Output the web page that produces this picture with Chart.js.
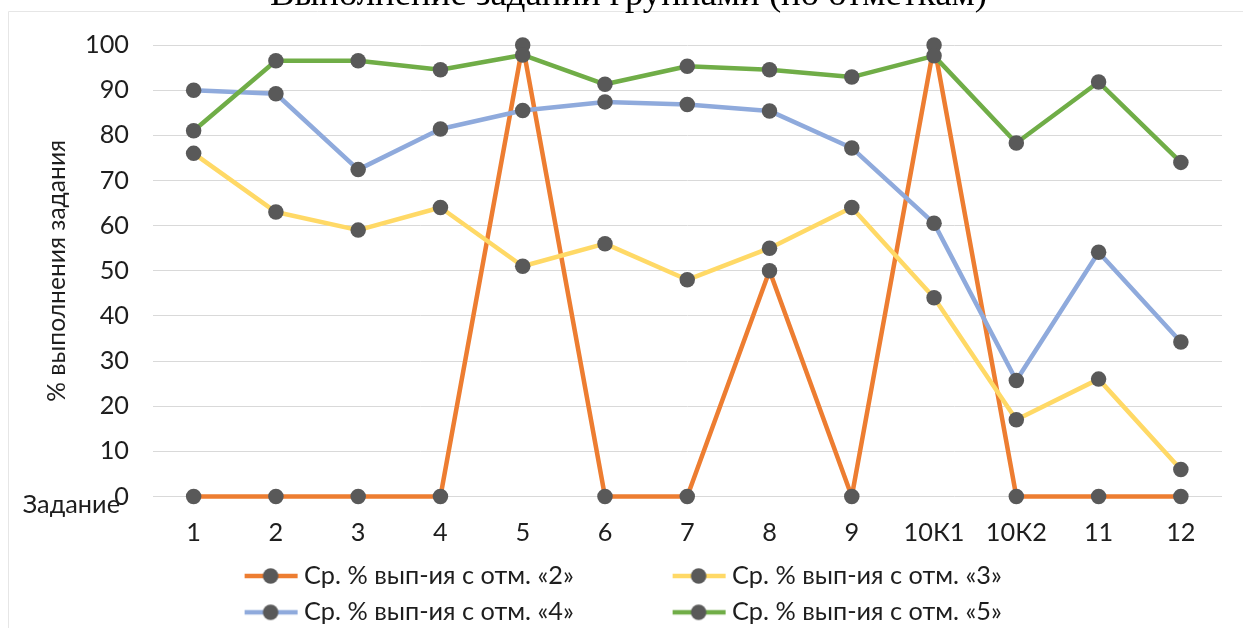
<!DOCTYPE html>
<html>
<head>
<meta charset="utf-8">
<script src="https://cdn.jsdelivr.net/npm/chart.js@4.4.1/dist/chart.umd.min.js"></script>
<style>
html,body{margin:0;padding:0;background:#ffffff;overflow:hidden;}
#wrap{position:relative;width:1243px;height:628px;}
canvas{display:block;}
</style>
</head>
<body>
<div id="wrap"><canvas id="c" width="1243" height="628"></canvas></div>
<script>
// ---------- data ----------
const chartTitle = 'Выполнение заданий группами (по отметкам)';
const yAxisTitle = '% выполнения задания';
const xAxisTitle = 'Задание';
const categories = ['1', '2', '3', '4', '5', '6', '7', '8', '9', '10К1', '10К2', '11', '12'];
const seriesNames = ['Ср. % вып-ия с отм. «2»', 'Ср. % вып-ия с отм. «3»', 'Ср. % вып-ия с отм. «4»', 'Ср. % вып-ия с отм. «5»'];
const grade2 = [0, 0, 0, 0, 100, 0, 0, 50, 0, 100, 0, 0, 0];
const grade3 = [76, 63, 59, 64, 51, 56, 48, 55, 64, 44, 17, 26, 6];
const grade4 = [90, 89.2, 72.4, 81.4, 85.5, 87.4, 86.8, 85.4, 77.2, 60.5, 25.7, 54.1, 34.2];
const grade5 = [81, 96.5, 96.5, 94.5, 97.8, 91.3, 95.3, 94.5, 92.9, 97.6, 78.3, 91.8, 74];
const yMin = 0, yMax = 100, yStep = 10;

// ---------- styling ----------
const W = 1243, H = 628;
const seriesColors = ['#ED7D31', '#FFD966', '#8FAADC', '#70AD47'];
const markerColor = '#595959';
const textColor = '#1e1e1e';
const gridColor = '#D9D9D9';
const sans = 'Lato';
const plotLeft = 152.5, plotRight = 1222, plotTop = 45, plotBottom = 496.5;

const mctx = document.createElement('canvas').getContext('2d');
function fitSize(text, family, nominal, target) {
  mctx.font = nominal + 'px ' + family;
  return nominal * target / mctx.measureText(text).width;
}
const legendSize = fitSize(seriesNames[0], sans, 19, 270);
const tickSize = legendSize;
const yTitleSize = fitSize(yAxisTitle, sans, 20, 262);
const titleSize = fitSize(chartTitle, '"Liberation Serif"', 36, 717);

// legend geometry
const legendPad = 11;
const legendTextX = 304;     // text start of first column
const legendRowY = 576;      // centre of first row
const colStep = 428;
mctx.font = legendSize + 'px ' + sans;
const tw0 = mctx.measureText(seriesNames[0]).width;
const boxW = colStep - legendPad - legendSize / 2 - tw0;

function makeLegendIcon(color) {
  const c = document.createElement('canvas');
  const w = Math.round(boxW + 14), h = 18;
  c.width = w; c.height = h;
  const g = c.getContext('2d');
  g.strokeStyle = color; g.lineWidth = 4.5; g.lineCap = 'butt';
  g.beginPath(); g.moveTo(w - 54, h / 2); g.lineTo(w - 1, h / 2); g.stroke();
  g.fillStyle = markerColor;
  g.beginPath(); g.arc(w - 28, h / 2, 7.75, 0, Math.PI * 2); g.fill();
  return c;
}
const legendIcons = seriesColors.map(makeLegendIcon);

const decor = {
  id: 'decor',
  afterLayout(chart) {
    const lg = chart.legend;
    if (!lg) return;
    lg.left = legendTextX - legendSize / 2 - boxW - legendPad;
    lg.top = legendRowY - legendPad - legendSize / 2;
    lg.bottom = lg.top + lg.height;
  },
  beforeDraw(chart) {
    const ctx = chart.ctx;
    ctx.save();
    ctx.strokeStyle = '#E6E6E6';
    ctx.lineWidth = 1;
    ctx.beginPath();
    ctx.moveTo(8.5, H + 5);
    ctx.lineTo(8.5, 11.5);
    ctx.lineTo(W + 5, 11.5);
    ctx.stroke();
    ctx.restore();
  },
  afterDraw(chart) {
    const ctx = chart.ctx;
    ctx.save();
    ctx.fillStyle = '#000000';
    ctx.font = titleSize + 'px "Liberation Serif"';
    ctx.textAlign = 'center';
    ctx.textBaseline = 'alphabetic';
    ctx.fillText(chartTitle, 628.5, 5);
    ctx.fillStyle = textColor;
    ctx.font = tickSize + 'px ' + sans;
    ctx.textAlign = 'right';
    ctx.textBaseline = 'middle';
    ctx.fillText(xAxisTitle, 120, 505);
    ctx.restore();
  }
};

const mk = (i, data, order) => ({
  label: seriesNames[i],
  data: data,
  borderColor: seriesColors[i],
  backgroundColor: seriesColors[i],
  borderWidth: 4.5,
  borderJoinStyle: 'round',
  tension: 0,
  pointRadius: 7.75,
  pointHoverRadius: 7.75,
  pointBackgroundColor: markerColor,
  pointBorderColor: markerColor,
  pointBorderWidth: 0,
  clip: false,
  order: order
});

new Chart(document.getElementById('c'), {
  type: 'line',
  data: {
    labels: categories,
    datasets: [mk(0, grade2, 3), mk(1, grade3, 2), mk(2, grade4, 1), mk(3, grade5, 0)]
  },
  options: {
    responsive: false,
    animation: false,
    devicePixelRatio: 1,
    layout: { padding: { top: plotTop, left: 0, right: W - plotRight, bottom: 0 } },
    plugins: {
      title: { display: false },
      tooltip: { enabled: false },
      legend: {
        display: true,
        position: 'bottom',
        align: 'start',
        labels: {
          usePointStyle: true,
          pointStyleWidth: boxW,
          boxHeight: legendSize,
          padding: legendPad,
          color: textColor,
          font: { family: sans, size: legendSize },
          generateLabels(chart) {
            return chart.data.datasets.map((ds, i) => ({
              text: ds.label,
              datasetIndex: i,
              pointStyle: legendIcons[i],
              fillStyle: 'rgba(0,0,0,0)',
              strokeStyle: 'rgba(0,0,0,0)',
              lineWidth: 0,
              hidden: false,
              fontColor: textColor
            }));
          }
        }
      }
    },
    scales: {
      x: {
        type: 'category',
        offset: true,
        grid: { display: false, drawTicks: false },
        border: { display: false },
        ticks: { color: textColor, font: { family: sans, size: tickSize }, padding: 21, maxRotation: 0, autoSkip: false },
        afterFit(s) { s.height = H - s.chart.legend.height - plotBottom; }
      },
      y: {
        min: yMin, max: yMax,
        grid: { color: gridColor, lineWidth: 1, drawTicks: false },
        border: { display: false },
        ticks: { stepSize: yStep, padding: plotLeft - 129, color: textColor, font: { family: sans, size: tickSize } },
        title: { display: true, text: yAxisTitle, color: textColor, font: { family: sans, size: yTitleSize }, padding: { top: 57 - yTitleSize * 0.6, bottom: 0 } },
        afterFit(s) { s.width = plotLeft; }
      }
    }
  },
  plugins: [decor]
});
</script>
</body>
</html>
